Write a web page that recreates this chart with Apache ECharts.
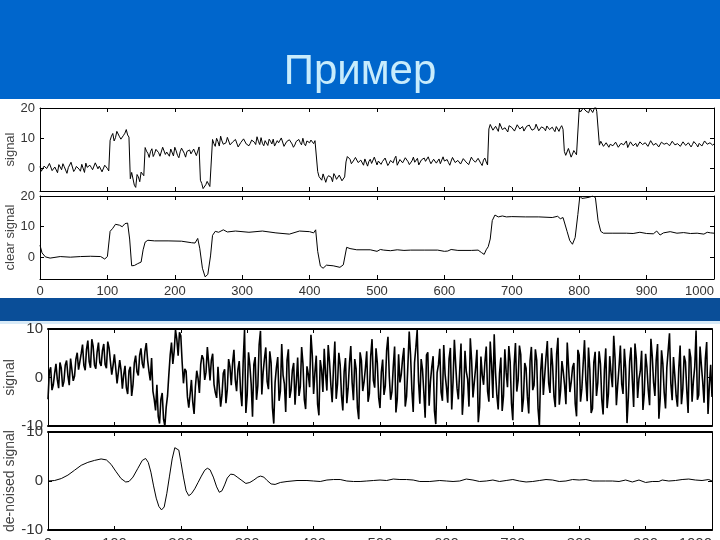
<!DOCTYPE html>
<html>
<head>
<meta charset="utf-8">
<title>Пример</title>
<script src="https://cdn.jsdelivr.net/npm/echarts@6/dist/echarts.min.js"></script>
<style>
html,body{margin:0;padding:0;background:#fff;}
#main{width:720px;height:540px;}
</style>
</head>
<body>
<div id="main"></div>
<script>
// ---- data ----
// top figure: noisy blocks, samples 0,4,8..1000
var blocksEven = [
  0.5,-0.8,1.2,-0.3,0.9,-1.4,0.2,1.1,-0.6,0.4,-1.8,0.7,1.3,-0.5,0.3,-1.1,0.8,1.6,-0.4,0.2,-0.9,1.4,0.6,-1.3,0.9,-0.2,
  9.2,11.5,10.1,11.8,9.6,10.9,12.8,10.3,
  -1.5,-5.8,-2.2,-4.6,-2.0,
  6.8,4.9,5.5,3.8,6.2,5.1,4.4,6.6,5.3,3.9,5.8,6.9,4.2,5.4,6.1,3.6,5.0,4.7,6.3,4.1,7.0,
  -5.2,-6.8,-4.5,-6.2,
  9.5,7.2,8.8,10.6,7.9,8.4,9.8,7.1,8.9,9.3,6.8,8.6,9.9,7.6,8.2,9.4,7.8,8.9,10.1,7.4,
  8.5,9.6,8.0,7.3,9.1,8.7,9.7,7.5,8.3,9.2,6.9,8.8,9.5,7.7,8.1,9.0,8.4,9.8,9.1,
  -1.2,-3.5,-2.0,-4.8,-2.6,-3.1,-1.9,-3.8,-2.4,-4.3,-3.0,
  3.8,2.9,1.2,3.5,1.8,2.6,0.9,3.1,2.2,1.5,3.6,1.0,2.8,2.1,3.3,0.8,2.5,1.7,3.9,1.3,
  2.7,2.0,3.4,1.1,2.4,1.9,3.2,0.7,2.6,2.2,3.7,1.4,2.9,1.6,3.0,1.2,2.3,2.8,0.9,3.5,
  1.8,2.5,1.3,3.1,2.0,1.1,3.6,2.4,1.5,2.9,0.8,3.3,1.0,
  14.5,12.6,13.9,12.2,14.8,13.1,12.7,14.1,13.5,12.3,14.4,13.0,13.8,12.5,14.2,13.3,12.9,14.6,12.4,13.7,
  13.2,14.0,12.8,13.6,12.1,14.3,13.4,12.9,
  4.2,6.5,3.6,5.8,4.4,
  19.5,18.2,20.3,18.8,19.9,18.5,20.6,19.2,
  8.9,7.2,8.4,6.9,8.1,7.6,9.0,7.3,8.5,7.8,6.8,8.7,7.4,8.2,7.0,9.1,7.7,8.3,6.9,8.6,
  7.5,8.0,7.1,9.2,7.9,8.4,7.2,8.8,7.6,8.1,6.8,9.0,7.4,8.5,7.8,9.3,7.0,8.2,7.7,8.9,
  7.3,8.6,8.0
];
// samples 2,6,10..998
var blocksOdd = [
  -1.1,0.6,-0.2,1.5,-0.9,0.3,-1.6,0.8,1.4,-0.7,0.1,1.9,-1.2,0.5,-0.4,1.2,-1.5,0.2,0.9,-0.6,1.7,-0.3,0.4,-1.9,1.0,-1.0,
  10.6,9.0,12.2,10.4,9.9,11.6,11.0,
  -3.6,-1.8,-6.5,-3.0,-1.4,-2.6,
  5.6,3.5,6.4,4.8,5.9,3.9,6.9,4.5,5.2,6.3,4.0,5.7,3.4,6.6,4.9,5.5,6.0,4.3,5.8,4.6,
  -4.1,-6.9,-5.6,-4.8,-6.5,
  8.1,9.9,7.3,9.0,8.3,10.2,7.7,8.7,9.5,7.0,8.5,9.7,8.0,7.4,9.3,8.6,10.4,7.8,8.2,9.1,
  7.5,8.9,9.6,7.9,8.4,10.0,7.2,8.8,9.4,8.0,7.6,9.2,8.5,9.9,7.4,8.6,9.3,8.1,9.6,
  -2.9,-4.1,-1.6,-3.3,-2.2,-4.6,-2.7,-3.4,-1.8,-3.9,
  2.0,3.2,1.4,2.7,3.9,1.6,2.4,3.0,0.6,2.9,1.9,3.5,2.3,1.2,2.6,3.8,1.5,2.2,3.1,0.9,
  2.8,1.7,3.4,2.1,1.3,3.6,2.5,1.0,2.7,3.3,1.6,2.4,0.8,3.1,2.0,1.4,3.7,2.6,1.8,2.3,
  3.0,1.2,2.9,1.7,3.4,2.2,0.7,2.8,1.9,3.2,1.5,2.6,2.0,
  13.0,14.2,12.5,13.7,14.9,12.8,13.4,12.0,14.1,13.2,12.7,14.5,13.6,12.3,13.9,14.3,12.6,13.1,14.0,12.9,
  13.5,12.4,14.4,13.3,12.8,13.8,12.2,14.1,
  5.5,3.8,6.2,4.6,5.1,4.0,
  18.7,20.0,19.0,18.4,20.2,19.6,18.9,
  7.6,8.3,7.0,8.8,7.9,7.4,8.6,6.9,8.2,7.7,9.0,7.3,8.5,8.0,7.1,8.7,7.8,8.4,7.2,9.1,
  7.6,8.2,7.0,8.6,7.9,8.3,7.4,8.9,7.7,8.1,7.2,8.7,7.5,8.4,7.0,8.8,7.8,8.2,7.3,9.0,
  7.9,8.4,7.6
];

// clear signal (x, y)
var clearX = [0,3,8,15,30,45,60,75,90,96,100,104,108,112,118,122,126,130,133,136,140,145,150,153,156,160,170,190,210,225,
  230,234,237,241,245,249,253,256,260,265,272,278,290,310,330,350,370,385,400,406,409,412,416,420,425,435,445,450,455,460,
  470,490,500,505,510,520,530,540,550,570,590,600,605,610,620,640,650,655,659,662,665,668,671,675,680,686,692,700,720,740,
  760,768,772,776,778,782,786,790,794,798,801,804,810,815,820,824,828,832,836,850,870,880,890,900,910,915,920,925,935,945,
  955,965,975,985,990,995,1000];
var clearY = [4.0,1.5,0.2,-0.2,0.3,0.1,0.3,0.4,0.3,-0.5,0.3,8.5,9.5,10.8,10.5,10.0,11.0,11.2,6.0,-2.7,-2.6,-2.0,-1.5,2.5,5.0,5.6,5.4,5.4,5.3,4.8,
  4.7,6.2,3.0,-3.5,-6.3,-5.5,0.5,7.2,8.5,8.2,9.0,8.3,8.6,8.2,8.6,8.0,7.6,8.6,8.4,8.0,9.0,2.0,-2.8,-3.5,-2.5,-2.7,-3.2,-2.4,3.3,2.9,
  2.5,2.5,2.0,2.6,2.4,2.2,2.5,2.3,2.4,2.4,2.4,2.0,2.1,2.6,2.3,2.3,2.4,1.6,1.0,2.5,3.5,6.0,12.0,13.8,13.2,13.5,13.2,13.3,13.2,13.2,
  13.0,13.4,12.6,13.0,12.5,8.5,5.5,4.3,6.5,14.0,20.0,19.2,19.4,19.6,20.0,19.5,12.0,8.5,7.9,7.9,7.9,7.8,8.2,7.8,7.7,8.6,7.3,8.0,8.4,7.9,
  8.1,7.8,7.9,7.6,8.2,8.0,7.9];

// bottom figure: noisy doppler, samples 0,4,8..1000
var dopplerEven = [
  -4.5,2.1,-1.5,2.8,-2.2,1.9,-0.8,3.5,-1.6,4.2,
  0.3,5.1,1.2,6.8,1.5,7.6,2.0,6.4,1.8,7.2,
  2.4,6.9,1.9,6.1,0.6,4.8,-1.2,3.6,-2.3,2.4,
  -3.4,2.2,-1.5,4.5,0.4,6.0,1.9,7.1,1.3,4.0,
  -4.5,-1.5,-9.5,-3.2,-10,-3.8,4.6,2.8,9.8,4.5,
  8.6,-1.2,1.3,-6.2,-0.5,-7.5,1.4,-3.2,4.6,-0.5,
  6.3,-0.6,4.9,-3.1,2.2,-6.0,0.9,-5.3,3.8,-1.6,
  5.7,-2.8,3.4,-5.9,9.8,-3.6,2.5,-8.1,4.2,-1.7,
  9.6,1.1,6.2,-2.4,3.0,-9.5,2.1,-4.8,6.9,-1.3,
  3.6,-4.2,1.5,-5.6,4.1,-1.9,2.8,-6.5,0.7,8.8,
  -3.4,4.5,-7.8,1.6,5.9,-2.7,3.2,-5.1,7.4,-1.4,
  2.6,-6.8,4.0,-2.2,6.5,-4.7,1.8,-8.6,3.5,-0.9,
  5.4,-3.3,7.9,-2.1,2.9,-6.3,3.7,-1.8,8.4,-4.6,
  2.3,-7.2,4.8,0.6,6.1,-3.9,9.5,-2.5,3.1,9.8,
  -5.4,1.7,-8.3,5.2,-0.8,4.4,-9.6,2.6,-3.0,6.7,
  -1.9,3.9,-6.6,7.8,-2.2,1.4,-7.7,5.5,-0.4,8.1,
  -4.1,2.0,-9.2,4.3,-1.5,6.4,-5.0,2.7,8.9,-3.7,
  0.9,-6.9,5.8,-2.0,3.3,-8.8,7.1,-0.6,4.7,-4.4,
  1.9,-7.4,6.3,-1.6,3.6,-9.9,5.0,0.3,7.5,-3.2,
  2.4,-6.1,8.2,-2.7,1.2,-5.5,6.9,-0.9,3.0,-8.0,
  4.6,-2.3,7.7,-4.9,1.6,-6.4,5.3,-1.1,2.8,-7.6,
  6.0,-3.4,0.8,8.6,-5.7,2.2,-1.3,5.9,-9.4,3.4,
  -0.5,7.0,-4.2,1.3,-6.7,4.9,-2.6,8.0,-1.0,3.7,
  -8.5,5.6,-3.1,2.1,9.1,-4.7,0.4,-6.0,6.6,-2.4,
  3.2,-7.3,4.1,-0.7,9.7,-3.6,2.5,-5.2,7.3,-1.7,
  -4.0
];
// samples 2,6,10..998
var dopplerOdd = [
  1.2,-2.6,0.9,-0.4,3.1,-1.9,2.6,0.4,3.9,-0.7,
  3.8,1.6,4.9,2.5,5.8,3.3,7.9,2.6,5.3,3.1,
  5.6,2.7,7.4,3.3,2.5,1.9,-0.8,1.5,0.6,-2.1,
  1.4,-3.8,3.0,1.2,4.6,2.9,5.4,3.6,-0.6,-2.8,
  -6.8,-8.0,-4.5,-8.6,-6.1,0.6,7.2,5.4,7.9,9.3,
  3.2,1.8,-4.0,-3.5,-5.1,-1.9,-0.2,2.7,3.8,1.1,
  2.9,3.6,-1.4,-4.2,-2.1,-3.6,1.7,-2.5,2.2,3.0,
  -0.4,1.6,-2.9,3.5,-7.3,5.2,-1.4,2.7,-4.6,6.8,
  -3.5,3.9,-0.8,5.4,-6.2,-1.0,4.2,-2.8,0.5,-7.1,
  5.8,-2.6,3.0,-0.9,-3.8,6.3,-4.5,2.3,-2.0,4.7,
  1.1,-5.5,3.6,-3.0,0.8,6.7,-1.6,2.2,-4.4,5.1,
  -3.7,1.2,-5.3,2.9,-1.0,3.8,-6.2,5.2,-2.8,1.9,
  -5.0,4.4,-0.6,6.0,-4.1,1.1,-3.6,5.6,0.2,-2.9,
  6.4,-4.4,-1.0,3.9,-6.0,2.5,4.7,-7.1,6.2,-0.7,
  3.8,-3.1,4.6,-5.8,2.2,-6.9,1.0,5.9,-4.8,0.7,
  -5.2,6.1,-0.9,2.6,-4.5,7.0,-3.3,1.2,-6.0,3.5,
  -1.0,5.7,-6.1,0.5,3.2,-2.8,7.4,-4.2,1.0,-6.6,
  4.1,-3.8,1.1,6.5,-5.3,2.4,-2.9,6.6,-7.1,3.0,
  -4.0,3.5,-2.6,5.8,-6.4,1.4,-3.6,4.2,-1.1,6.1,
  -3.9,4.9,-5.6,3.4,-1.6,7.2,-3.0,2.1,-5.4,5.7,
  -5.0,2.9,-0.5,6.2,-7.3,3.1,-3.8,5.4,-4.5,1.7,
  -6.3,4.4,-2.0,3.9,-1.5,6.6,-3.4,1.8,-4.1,6.2,
  -6.1,3.9,-0.3,5.5,-3.3,2.1,-5.7,4.4,-3.8,6.9,
  -4.3,2.8,-6.4,5.6,-1.2,4.2,-3.8,1.9,-5.5,4.5,
  -2.6,5.9,-5.0,2.2,-4.6,6.4,-0.9,3.9,-7.5,2.6
];

// de-noised signal (x, y)
var denX = [0,10,20,30,40,50,60,70,80,88,95,102,110,117,122,128,135,142,147,151,155,159,163,167,171,175,179,183,187,191,
  194,197,200,204,208,212,216,221,226,231,236,240,244,249,254,258,262,266,270,275,280,286,292,298,304,310,316,320,325,330,
  336,342,350,360,375,390,400,410,420,430,440,450,460,470,480,490,500,510,520,530,540,550,560,575,590,600,610,620,630,640,
  650,660,670,680,690,700,710,720,730,740,750,760,770,780,790,800,810,820,830,840,850,860,870,880,890,900,910,920,925,935,
  945,955,965,975,985,995,1000];
var denY = [0,0.1,0.5,1.2,2.2,3.2,3.8,4.2,4.5,4.3,3.4,2.0,0.5,-0.2,-0.1,0.8,2.5,4.2,4.6,3.8,1.8,-1.0,-3.5,-5.2,-5.9,-5.3,-2.5,1.0,4.5,6.8,
  7.2,6.3,4.0,0.8,-2.0,-3.0,-2.6,-1.6,-0.3,1.0,2.2,2.6,2.3,0.8,-1.2,-2.3,-2.0,-0.8,0.6,1.4,1.3,0.7,0.1,-0.5,-0.3,0.2,0.8,1.0,0.8,0.1,
  -0.6,-0.7,-0.3,-0.1,0.1,0.1,0,-0.1,0.2,0.3,0.3,0,-0.1,-0.1,0,0.1,0.2,0.1,0.4,0.3,0.3,0.2,-0.1,-0.1,0.1,0,-0.1,0,0.4,0.2,
  -0.1,0,0.2,-0.1,0.1,0.3,0,-0.2,-0.1,0.1,0.3,0.2,-0.1,0,0.3,0.2,0.3,0,0,0,0,-0.1,0.2,-0.2,0.2,-0.3,-0.1,-0.1,0.2,0,
  0.1,0.3,0.4,0.2,0.1,0.3,0];

var xTicks = [0,100,200,300,400,500,600,700,800,900,1000];
var yTicksTop = [0,10,20];
var yTicksBottom = [-10,0,10];

// ---- chart ----
var FONT = "'Liberation Sans',Arial,sans-serif";

function pairs(xs, ys){
  var out = [];
  for(var i=0;i<xs.length;i++) out.push([xs[i], ys[i]]);
  return out;
}
// even samples at 0,4,8.. and odd ones at 2,6,10..
function merge(even, odd){
  var out = [];
  for(var i=0;i<even.length;i++){
    out.push([i*4, even[i]]);
    if(i<odd.length) out.push([i*4+2, odd[i]]);
  }
  return out;
}

var grids = [
  {left:40, top:108, width:674, height:83},
  {left:40, top:196, width:674, height:83},
  {left:48, top:329, width:664, height:97},
  {left:48, top:432, width:664, height:98}
];
grids.forEach(function(g){ g.containLabel = false; g.outerBoundsMode = 'none'; });

var yRange = [[-7.7,20],[-7,20],[-10,10],[-10,10]];
var yNames = ['signal','clear signal','signal','de-noised signal'];
var yTicks = [yTicksTop, yTicksTop, yTicksBottom, yTicksBottom];
var showX = [false, true, false, true];
var fs = [13, 13, 15, 15];
var hLine = [1, 1, 2, 2];   // bottom figure is drawn thicker

var xAxes = [], yAxes = [];
grids.forEach(function(g, i){
  ['bottom','top'].forEach(function(pos){
    xAxes.push({
      type:'value', gridIndex:i, position:pos, min:0, max:1000, interval:100,
      axisLine:{show:true, onZero:false, lineStyle:{color:'#000', width:hLine[i]}},
      axisTick:{show:true, inside:true, length:4, lineStyle:{color:'#000'}},
      axisLabel:{show: pos==='bottom' && showX[i], color:'#333', fontSize:fs[i], fontFamily:FONT, margin:6,
        customValues: xTicks, alignMaxLabel:'right', formatter:function(v){ return String(v); }},
      splitLine:{show:false}
    });
  });
  ['left','right'].forEach(function(pos){
    yAxes.push({
      type:'value', gridIndex:i, position:pos, min:yRange[i][0], max:yRange[i][1],
      name: pos==='left' ? yNames[i] : '',
      nameLocation:'middle', nameRotate:90, nameMoveOverlap:false,
      nameGap: i<2 ? 23 : 31,
      nameTextStyle:{color:'#444', fontSize: i<2 ? 13 : 14, fontFamily:FONT},
      axisLine:{show:true, onZero:false, lineStyle:{color:'#000', width:1}},
      axisTick:{show:true, inside:true, length:4, customValues: yTicks[i], lineStyle:{color:'#000'}},
      axisLabel:{show: pos==='left', color:'#333', fontSize:fs[i], fontFamily:FONT, margin:5,
        customValues: yTicks[i]},
      splitLine:{show:false}
    });
  });
});

var lines = [merge(blocksEven, blocksOdd), pairs(clearX, clearY), merge(dopplerEven, dopplerOdd), pairs(denX, denY)];
var series = lines.map(function(d, i){
  return {
    type:'line', xAxisIndex:i*2, yAxisIndex:i*2, data:d,
    showSymbol:false, clip:true,
    lineStyle:{color:'#000', width: i===2 ? 1.6 : 1},
    z:3
  };
});

var chart = echarts.init(document.getElementById('main'));
chart.setOption({
  animation:false,
  backgroundColor:'#fff',
  title:{
    text:'Пример', left:'center', top:46,
    textStyle:{color:'#c8ecfc', fontSize:42, fontWeight:'normal', fontFamily:FONT}
  },
  graphic:[
    {type:'rect', z:-1, silent:true, shape:{x:0, y:0, width:720, height:99}, style:{fill:'#0066cc'}},
    {type:'rect', z:-1, silent:true, shape:{x:0, y:298, width:720, height:23}, style:{fill:'#0a4e98'}},
    {type:'rect', z:-1, silent:true, shape:{x:0, y:321, width:720, height:3}, style:{fill:'#d8eaf7'}}
  ],
  grid:grids,
  xAxis:xAxes,
  yAxis:yAxes,
  series:series
});
</script>
</body>
</html>
